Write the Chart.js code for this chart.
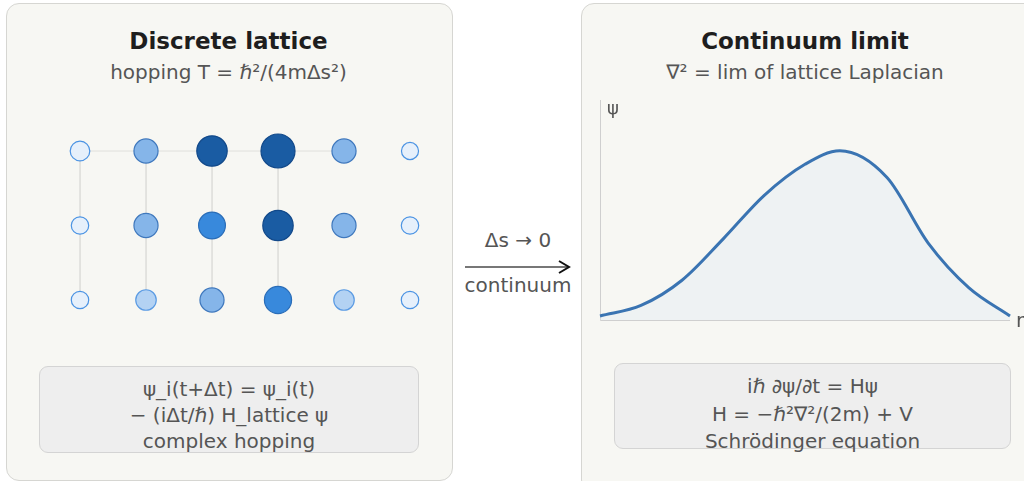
<!DOCTYPE html>
<html>
<head>
<meta charset="utf-8">
<script src="https://cdn.jsdelivr.net/npm/chart.js@4.4.1/dist/chart.umd.min.js"></script>
<style>
  html, body { margin:0; padding:0; background:#ffffff; width:1024px; height:481px; overflow:hidden; font-family:"DejaVu Sans", sans-serif; }
  .panel { position:absolute; background:#f7f7f3; border:1px solid #d6d6d2; border-radius:13px; box-sizing:border-box; }
  .title { position:absolute; text-align:center; font-weight:bold; font-size:23px; line-height:28px; color:#1e1e1e; white-space:nowrap; }
  .sub { position:absolute; text-align:center; font-size:20px; line-height:24px; color:#555; white-space:nowrap; }
  .box { position:absolute; background:#eeeeee; border:1px solid #d4d4d4; border-radius:9px; box-sizing:border-box; }
  .txt { position:absolute; text-align:center; font-size:20px; color:#555; white-space:nowrap; line-height:24px; }
  canvas { position:absolute; }
</style>
</head>
<body>
<div class="panel" style="left:6px; top:3px; width:447px; height:478px;"></div>
<div class="panel" style="left:581px; top:3px; width:460px; height:490px;"></div>

<div class="title" style="left:6px; width:445px; top:27px;">Discrete lattice</div>
<div class="sub" style="left:6px; width:445px; top:60px;">hopping T = ℏ²/(4mΔs²)</div>

<div class="title" style="left:581px; width:448px; top:27px;">Continuum limit</div>
<div class="sub" style="left:581px; width:448px; top:60px;">∇² = lim of lattice Laplacian</div>

<canvas id="lattice" width="410" height="210" style="left:40px; top:120px;"></canvas>
<canvas id="curve" width="434" height="240" style="left:590px; top:90px;"></canvas>

<div class="txt" style="left:607px; top:96px; font-size:18px; text-align:left;">ψ</div>
<div class="txt" style="left:1016px; top:308px; font-size:20px; text-align:left;">r</div>

<div class="box" style="left:39px; top:366px; width:380px; height:87px;"></div>
<div class="txt" style="left:39px; width:380px; top:377px;">ψ_i(t+Δt) = ψ_i(t)</div>
<div class="txt" style="left:39px; width:380px; top:403px;">− (iΔt/ℏ) H_lattice ψ</div>
<div class="txt" style="left:39px; width:380px; top:429px;">complex hopping</div>

<div class="box" style="left:614px; top:363px; width:397px; height:86px;"></div>
<div class="txt" style="left:614px; width:397px; top:374px;">iℏ ∂ψ/∂t = Hψ</div>
<div class="txt" style="left:614px; width:397px; top:402px;">H = −ℏ²∇²/(2m) + V</div>
<div class="txt" style="left:614px; width:397px; top:429px;">Schrödinger equation</div>

<div class="txt" style="left:458px; width:120px; top:228px;">Δs → 0</div>
<div class="txt" style="left:458px; width:120px; top:273px;">continuum</div>
<svg style="position:absolute; left:460px; top:255px;" width="120" height="24">
  <line x1="5" y1="12" x2="108" y2="12" stroke="#777" stroke-width="2"/>
  <polyline points="99,6 109,12 99,18" fill="none" stroke="#111" stroke-width="2"/>
</svg>

<script>
// ---- Lattice data (columns = sites along s, rows = lattice rows) ----
const latticeCols = [0, 1, 2, 3, 4, 5];
const latticeRows = [0, 1, 2];
// amplitude |psi| at each site, row by row
const ampRow0 = [0.20, 0.45, 0.80, 1.00, 0.45, 0.06];
const ampRow1 = [0.08, 0.45, 0.60, 0.80, 0.45, 0.08];
const ampRow2 = [0.08, 0.25, 0.45, 0.62, 0.25, 0.08];
// hopping bonds drawn: horizontal along row 0 (col 0..4), vertical on cols 0..3
const bondRow0Cols = [0, 4];
const bondVerticalCols = [0, 1, 2, 3];

// ---- Continuum curve data ----
const rValues   = [0, 1, 2, 3, 4, 5, 5.85, 7, 8, 9, 10];
const psiValues = [0.024, 0.086, 0.235, 0.478, 0.735, 0.92, 1.0, 0.842, 0.456, 0.19, 0.024];

const ampRows = [ampRow0, ampRow1, ampRow2];

function fillFor(a) {
  if (a < 0.22) return '#e6f0fb';
  if (a < 0.35) return '#b3d2f3';
  if (a < 0.55) return '#85b5e9';
  if (a < 0.75) return '#3889dc';
  return '#1a5ca3';
}
function borderFor(a) {
  if (a < 0.22) return '#4b93e3';
  if (a < 0.35) return '#5b9be3';
  if (a < 0.55) return '#3f78bd';
  if (a < 0.75) return '#2a6db8';
  return '#12498a';
}
function radiusFor(a) { return 8 + 9 * a; }

const sitePoints = [];
ampRows.forEach((row, ri) => row.forEach((a, ci) => {
  sitePoints.push({ x: latticeCols[ci], y: latticeRows[ri], r: radiusFor(a), a: a });
}));

const bondDatasets = [];
bondDatasets.push({
  type: 'line',
  data: [{ x: bondRow0Cols[0], y: latticeRows[0] }, { x: bondRow0Cols[1], y: latticeRows[0] }],
  borderColor: '#e0e0dc', borderWidth: 1, pointRadius: 0, clip: false, order: 2
});
bondVerticalCols.forEach(c => {
  bondDatasets.push({
    type: 'line',
    data: [{ x: c, y: latticeRows[0] }, { x: c, y: latticeRows[2] }],
    borderColor: '#e0e0dc', borderWidth: 1, pointRadius: 0, clip: false, order: 2
  });
});

new Chart(document.getElementById('lattice'), {
  type: 'bubble',
  data: {
    datasets: [
      {
        type: 'bubble',
        data: sitePoints,
        backgroundColor: sitePoints.map(p => fillFor(p.a)),
        borderColor: sitePoints.map(p => borderFor(p.a)),
        borderWidth: 1.2,
        hoverRadius: 0,
        clip: false,
        order: 1
      },
      ...bondDatasets
    ]
  },
  options: {
    responsive: false,
    animation: false,
    events: [],
    layout: { padding: { left: 40, right: 40, top: 31, bottom: 30 } },
    plugins: { legend: { display: false }, tooltip: { enabled: false } },
    scales: {
      x: { type: 'linear', min: 0, max: 5, display: false },
      y: { type: 'linear', min: 0, max: 2, reverse: true, display: false }
    }
  }
});

const axisPlugin = {
  id: 'axes',
  beforeDatasetsDraw(chart) {
    const { ctx, chartArea } = chart;
    const xs = chart.scales.x, ys = chart.scales.y;
    ctx.save();
    ctx.strokeStyle = '#cfcfcf';
    ctx.lineWidth = 1;
    ctx.beginPath();
    const x0 = Math.round(xs.getPixelForValue(0)) + 0.5;
    const y0 = Math.round(ys.getPixelForValue(0)) + 0.5;
    ctx.moveTo(x0, chartArea.top);
    ctx.lineTo(x0, y0);
    ctx.lineTo(chartArea.right, y0);
    ctx.stroke();
    ctx.restore();
  }
};

new Chart(document.getElementById('curve'), {
  type: 'line',
  data: {
    datasets: [{
      data: rValues.map((r, i) => ({ x: r, y: psiValues[i] })),
      borderColor: '#3a74b2',
      borderWidth: 3,
      backgroundColor: 'rgba(220,232,244,0.35)',
      fill: 'origin',
      pointRadius: 0,
      cubicInterpolationMode: 'monotone',
      clip: false
    }]
  },
  options: {
    responsive: false,
    animation: false,
    events: [],
    layout: { padding: { left: 10, right: 14, top: 10, bottom: 10 } },
    plugins: { legend: { display: false }, tooltip: { enabled: false } },
    scales: {
      x: { type: 'linear', min: 0, max: 10, display: false },
      y: { type: 'linear', min: 0, max: 1.3, display: false }
    }
  },
  plugins: [axisPlugin]
});
</script>
</body>
</html>
